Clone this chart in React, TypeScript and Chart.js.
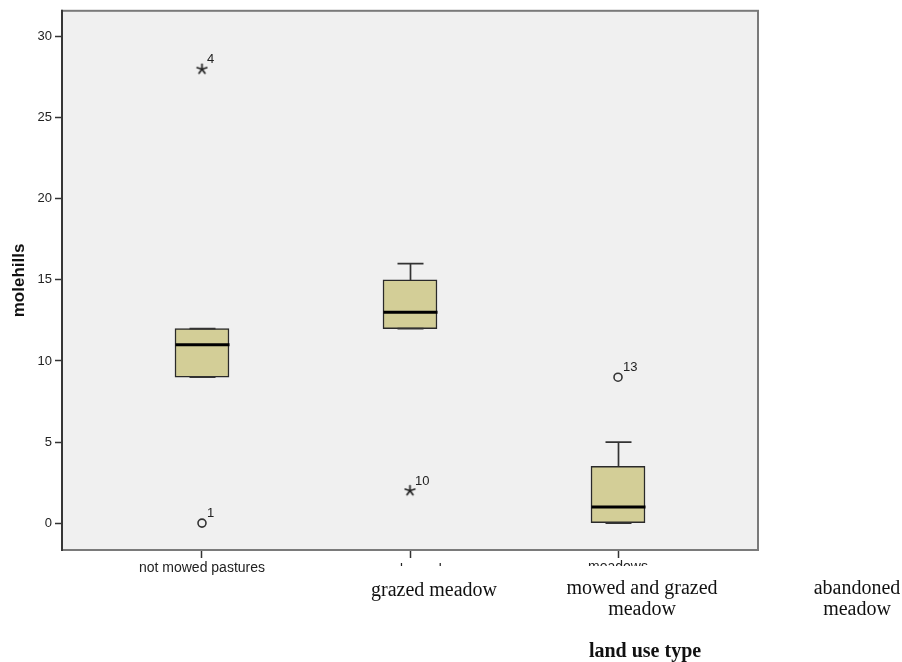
import React, { useEffect, useRef } from "react";
import { Chart, registerables } from "chart.js";

Chart.register(...registerables);

// ---- data ----
const categories = ["not mowed pastures", "grazed meadow", "meadows"];
const overlayLabels = [["grazed meadow"], ["mowed and grazed", "meadow"], ["abandoned", "meadow"]];
const xTitle = "land use type";
const yTitle = "molehills";
const q1 = [9, 12, 0];
const medians = [11, 13, 1];
const q3 = [12, 15, 3.5];
const whiskerLow = [9, 12, 0];
const whiskerHigh = [12, 16, 5];
const circleCat = [1, 3];
const circleVal = [0, 9];
const circleId = ["1", "13"];
const starCat = [1, 2];
const starVal = [28, 2];
const starId = ["4", "10"];
const yTicks = [0, 5, 10, 15, 20, 25, 30];

const SANS = "'Liberation Sans', Arial, sans-serif";
const SERIF = "'Liberation Serif', 'Times New Roman', serif";

function makeStar(): HTMLCanvasElement {
  const c = document.createElement("canvas");
  c.width = 13;
  c.height = 13;
  const g = c.getContext("2d")!;
  g.strokeStyle = "#222";
  g.lineWidth = 1.7;
  g.lineCap = "round";
  for (let i = 0; i < 5; i++) {
    const a = -Math.PI / 2 + (i * 2 * Math.PI) / 5;
    g.beginPath();
    g.moveTo(6.5, 6.5);
    g.lineTo(6.5 + 5 * Math.cos(a), 6.5 + 5 * Math.sin(a));
    g.stroke();
  }
  return c;
}

const boxPlugin = {
  id: "boxExtras",
  beforeDraw(chart: any) {
    const { ctx, chartArea: a } = chart;
    ctx.save();
    ctx.fillStyle = "#ffffff";
    ctx.fillRect(0, 0, chart.width, chart.height);
    ctx.fillStyle = "#F0F0F0";
    ctx.fillRect(a.left, a.top, a.right - a.left, a.bottom - a.top);
    ctx.restore();
  },
  afterDatasetsDraw(chart: any) {
    const { ctx } = chart;
    const xs = chart.scales.x;
    const ys = chart.scales.y;
    const half = 27;
    const cap = 13;
    ctx.save();
    for (let i = 0; i < categories.length; i++) {
      const cx = Math.round(xs.getPixelForValue(i + 1)) + 0.5;
      ctx.strokeStyle = "#333";
      ctx.lineWidth = 1.7;
      const yq3 = ys.getPixelForValue(q3[i]);
      const yq1 = ys.getPixelForValue(q1[i]);
      const yh = ys.getPixelForValue(whiskerHigh[i]);
      const yl = ys.getPixelForValue(whiskerLow[i]);
      ctx.beginPath();
      ctx.moveTo(cx, yq3);
      ctx.lineTo(cx, yh);
      ctx.moveTo(cx - cap, yh);
      ctx.lineTo(cx + cap, yh);
      ctx.moveTo(cx, yq1);
      ctx.lineTo(cx, yl);
      ctx.moveTo(cx - cap, yl);
      ctx.lineTo(cx + cap, yl);
      ctx.stroke();
      ctx.strokeStyle = "#000";
      ctx.lineWidth = 3;
      const ym = ys.getPixelForValue(medians[i]);
      ctx.beginPath();
      ctx.moveTo(cx - half, ym);
      ctx.lineTo(cx + half, ym);
      ctx.stroke();
    }
    ctx.restore();
  },
  afterDraw(chart: any) {
    const { ctx, chartArea: a } = chart;
    const xs = chart.scales.x;
    const ys = chart.scales.y;
    ctx.save();
    // frame
    ctx.strokeStyle = "#7a7a7a";
    ctx.lineWidth = 2;
    ctx.strokeRect(a.left, a.top, a.right - a.left, a.bottom - a.top);
    ctx.strokeStyle = "#222";
    ctx.lineWidth = 1.5;
    ctx.beginPath();
    ctx.moveTo(a.left, a.top - 1);
    ctx.lineTo(a.left, a.bottom + 1);
    ctx.stroke();

    // outlier labels
    ctx.fillStyle = "#222";
    ctx.font = `13px ${SANS}`;
    ctx.textAlign = "left";
    ctx.textBaseline = "alphabetic";
    const lab = (cat: number, v: number, t: string) => {
      ctx.fillText(t, xs.getPixelForValue(cat) + 5, ys.getPixelForValue(v) - 6);
    };
    circleCat.forEach((c, i) => lab(c, circleVal[i], circleId[i]));
    starCat.forEach((c, i) => lab(c, starVal[i], starId[i]));

    // x tick labels (the later ones partly hidden)
    ctx.textAlign = "center";
    ctx.font = `14px ${SANS}`;
    ctx.fillText(categories[0], xs.getPixelForValue(1), a.bottom + 22);
    ctx.save();
    ctx.beginPath();
    ctx.rect(a.left, a.bottom + 9, a.right - a.left, 7);
    ctx.clip();
    ctx.fillText(categories[1], xs.getPixelForValue(2), a.bottom + 24);
    ctx.fillText(categories[2], xs.getPixelForValue(3), a.bottom + 21);
    ctx.restore();

    // y title
    ctx.save();
    ctx.font = `bold 17px ${SANS}`;
    ctx.fillStyle = "#111";
    ctx.translate(24, (a.top + a.bottom) / 2);
    ctx.rotate(-Math.PI / 2);
    ctx.textAlign = "center";
    ctx.fillText(yTitle, 0, 0);
    ctx.restore();

    // overlay serif labels
    ctx.fillStyle = "#111";
    ctx.font = `20px ${SERIF}`;
    ctx.textAlign = "center";
    overlayLabels.forEach((lines, i) => {
      const x = xs.getPixelForValue(i + 2) + 24 + (i === 2 ? 7 : 0);
      const base = lines.length === 1 ? a.bottom + 46 : a.bottom + 44;
      lines.forEach((ln, j) => ctx.fillText(ln, x, base + j * 21));
    });
    ctx.font = `bold 20px ${SERIF}`;
    ctx.fillText(xTitle, xs.getPixelForValue(3) + 27, a.bottom + 107);
    ctx.restore();
  },
};

export default function App() {
  const ref = useRef<HTMLCanvasElement | null>(null);
  useEffect(() => {
    if (!ref.current) return;
    const star = makeStar();
    const chart = new Chart(ref.current, {
      type: "bar",
      data: {
        datasets: [
          {
            type: "bar",
            data: categories.map((_, i) => ({ x: i + 1, y: [q1[i], q3[i]] })) as any,
            backgroundColor: "#D3CE97",
            borderColor: "#2a2a2a",
            borderWidth: 1.5,
            borderSkipped: false,
            barThickness: 54,
            grouped: false,
          } as any,
          {
            type: "scatter",
            data: circleCat.map((c, i) => ({ x: c, y: circleVal[i] })),
            pointStyle: "circle",
            pointRadius: 4,
            pointBackgroundColor: "rgba(0,0,0,0)",
            pointBorderColor: "#333",
            pointBorderWidth: 1.6,
          } as any,
          {
            type: "scatter",
            data: starCat.map((c, i) => ({ x: c, y: starVal[i] })),
            pointStyle: star,
            pointRadius: 6,
          } as any,
        ],
      },
      options: {
        responsive: false,
        animation: false,
        layout: { padding: { top: 8, right: 144, left: 0, bottom: 0 } },
        plugins: {
          legend: { display: false },
          tooltip: { enabled: false },
          title: { display: false },
        },
        scales: {
          x: {
            type: "linear",
            offset: false,
            min: 0.327,
            max: 3.673,
            afterFit: (s: any) => {
              s.height = 112;
            },
            afterBuildTicks: (s: any) => {
              s.ticks = categories.map((_, i) => ({ value: i + 1 }));
            },
            grid: { offset: false, drawOnChartArea: false, drawTicks: true, tickLength: 8, color: "#333", tickWidth: 1.5 },
            border: { display: false },
            ticks: { display: false },
          },
          y: {
            type: "linear",
            min: -1.66,
            max: 31.6,
            afterFit: (s: any) => {
              s.width = 62;
            },
            afterBuildTicks: (s: any) => {
              s.ticks = yTicks.map((v) => ({ value: v }));
            },
            grid: { drawOnChartArea: false, drawTicks: true, tickLength: 7, color: "#333", tickWidth: 1.5 },
            border: { display: false },
            ticks: { font: { family: SANS, size: 13 }, color: "#222", padding: 3 },
          },
        },
      } as any,
      plugins: [boxPlugin],
    });
    return () => chart.destroy();
  }, []);
  return (
    <div style={{ position: "absolute", left: 0, top: 0, width: 902, height: 662 }}>
      <canvas ref={ref} width={902} height={662} style={{ display: "block", width: 902, height: 662 }} />
    </div>
  );
}
